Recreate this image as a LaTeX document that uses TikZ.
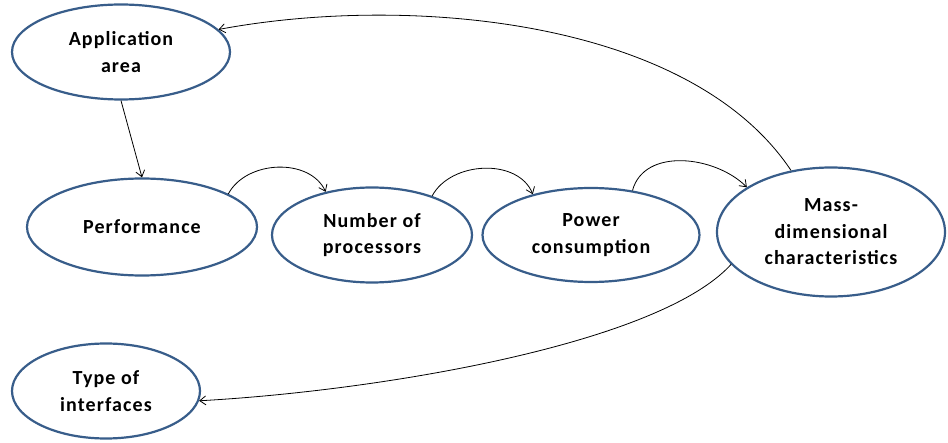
\documentclass[tikz,border=0pt]{standalone}
\usepackage{fontspec}
\setmainfont{Carlito}[LetterSpace=5.5]
\usetikzlibrary{shapes.geometric,arrows.meta}
\definecolor{ringblue}{RGB}{56,93,138}
\begin{document}
\begin{tikzpicture}[x=1pt,y=1pt,
  oval/.style={ellipse, draw=ringblue, line width=2.2pt, fill=white,
    inner sep=0pt, align=center,
    font=\bfseries\fontsize{20}{26.5}\selectfont},
  link/.style={draw=black, line width=0.8pt, -{Straight Barb[length=6pt,width=9pt]}}]
\useasboundingbox (0,0) rectangle (948,442);
\node[oval, minimum width=218pt, minimum height=95pt] (app) at (121,390) {Application\\area};
\node[oval, minimum width=230pt, minimum height=97pt] (perf) at (142,215) {Performance};
\node[oval, minimum width=200pt, minimum height=95pt] (num) at (372,207) {Number of\\processors};
\node[oval, minimum width=217pt, minimum height=94pt] (pow) at (591,207) {Power\\consumption};
\node[oval, minimum width=228pt, minimum height=129pt] (mass) at (831,210) {Mass-\\dimensional\\characteristics};
\node[oval, minimum width=188pt, minimum height=95pt] (type) at (106,51) {Type of\\interfaces};
\draw[link] (app.south) -- (perf.north);
\draw[link] (perf.21) to[out=62,in=115] (num.137);
\draw[link] (num.33) to[out=62,in=112] (pow.145);
\draw[link] (pow.47) to[out=75,in=135] (mass.152);
\draw[link] (mass.123) .. controls +(-102,153) and +(187,35) .. (app.13);
\draw[link] (mass.198.6) .. controls +(-73,-80) and +(180,10) .. (type.-6);
\end{tikzpicture}
\end{document}
